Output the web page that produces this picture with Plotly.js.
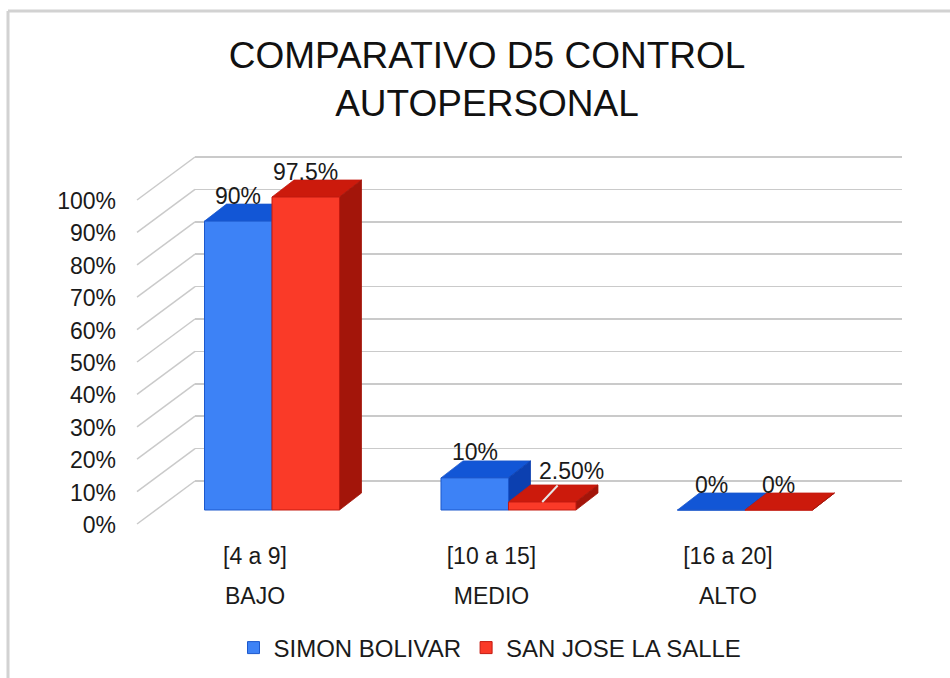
<!DOCTYPE html>
<html><head><meta charset="utf-8">
<script src="https://cdn.plot.ly/plotly-3.0.1.min.js"></script>
<style>html,body{margin:0;padding:0;background:#fff}#chart{width:950px;height:678px}</style>
</head><body><div id="chart"></div>
<script>
// ---- data ----
const categories = ['[4 a 9]', '[10 a 15]', '[16 a 20]'];
const levels = ['BAJO', 'MEDIO', 'ALTO'];
const seriesNames = ['SIMON BOLIVAR', 'SAN JOSE LA SALLE'];
const simonBolivar = [0.90, 0.10, 0.00];
const sanJoseLaSalle = [0.975, 0.025, 0.00];
const simonBolivarLabels = ['90%', '10%', '0%'];
const sanJoseLaSalleLabels = ['97.5%', '2.50%', '0%'];
const yTickValues = [0, 0.1, 0.2, 0.3, 0.4, 0.5, 0.6, 0.7, 0.8, 0.9, 1.0];

// ---- layout constants ----
const FONT = 'Liberation Sans, Arial, sans-serif';
const W = 950, H = 678;
const M = {l: 195, r: 48, t: 150, b: 148, autoexpand: false};
const plotW = W - M.l - M.r, plotH = H - M.t - M.b;
const xRange = [-0.3256, 2.664];
const yRange = [-0.0623, 1.1215];
const y2Range = [-0.1512, 1.0216];
const labelRange = [-0.2537, 2.7359];
const barWidth = 0.2854;
const depthX = 22, depthY = 17;
const pxPerY = plotH / (yRange[1] - yRange[0]);
const pxPerX = plotW / (xRange[1] - xRange[0]);
const depthYData = depthY / pxPerY;
const barPx = barWidth * pxPerX;
const px2paperX = p => (p - M.l) / plotW;
const px2paperY = p => (H - M.b - p) / plotH;

const series = [
  {name: seriesNames[0], values: simonBolivar, labels: simonBolivarLabels, offset: -barWidth,
   front: '#3d82f6', top: '#1256d6', side: '#0c40b0', edge: '#1c58cc'},
  {name: seriesNames[1], values: sanJoseLaSalle, labels: sanJoseLaSalleLabels, offset: 0,
   front: '#fa3a28', top: '#cc1a0c', side: '#a3150a', edge: '#c41a10'}
];
const xIdx = categories.map((c, i) => i);

const traces = series.map(s => ({
  type: 'bar', name: s.name, x: xIdx, y: s.values,
  offset: s.offset, width: barWidth,
  marker: {color: s.front, line: {color: s.edge, width: 1}},
  hoverinfo: 'skip', cliponaxis: false
}));
traces.push({type: 'scatter', mode: 'none', x: categories, y: [null, null, null], xaxis: 'x2', yaxis: 'y', showlegend: false, hoverinfo: 'skip'});
traces.push({type: 'scatter', mode: 'none', x: levels, y: [null, null, null], xaxis: 'x3', yaxis: 'y', showlegend: false, hoverinfo: 'skip'});
traces.push({type: 'scatter', mode: 'none', x: [0], y: [null], xaxis: 'x', yaxis: 'y2', showlegend: false, hoverinfo: 'skip'});

const shapes = [];
// outer frame
shapes.push({type: 'line', xref: 'paper', yref: 'paper', x0: px2paperX(8), x1: px2paperX(8), y0: px2paperY(690), y1: px2paperY(11), line: {color: '#d2d2d2', width: 3}});
shapes.push({type: 'line', xref: 'paper', yref: 'paper', x0: px2paperX(8), x1: px2paperX(960), y0: px2paperY(11), y1: px2paperY(11), line: {color: '#d2d2d2', width: 3}});
// side wall lines
yTickValues.forEach(v => {
  shapes.push({type: 'line', xref: 'paper', yref: 'y2', ysizemode: 'pixel', yanchor: v,
    x0: px2paperX(137), x1: 0, y0: -43, y1: 0, line: {color: '#cacaca', width: 1.5}});
});
// 3D faces
series.forEach(s => {
  s.values.forEach((v, i) => {
    const left = i + s.offset;
    shapes.push({type: 'path', layer: 'between', xref: 'x', yref: 'y', xsizemode: 'pixel', ysizemode: 'pixel',
      xanchor: left, yanchor: v,
      path: `M0,0 L${barPx},0 L${barPx + depthX},${depthY} L${depthX},${depthY} Z`,
      fillcolor: s.top, line: {color: s.edge, width: 0.8}});
    shapes.push({type: 'path', layer: 'between', xref: 'x', yref: 'y', xsizemode: 'pixel',
      xanchor: left + barWidth,
      path: `M0,${v} L${depthX},${v + depthYData} L${depthX},${depthYData} L0,0 Z`,
      fillcolor: s.side, line: {color: s.side, width: 0.8}});
  });
});

const annotations = [];
series.forEach(s => {
  s.values.forEach((v, i) => {
    const a = {xref: 'x', yref: 'y', x: i + s.offset + barWidth / 2, y: v, text: s.labels[i],
      font: {family: FONT, size: 23, color: '#1a1a1a'}, showarrow: false, yshift: 25.5};
    if (v > 0 && v < 0.05) {
      Object.assign(a, {showarrow: true, yshift: 0, ax: 29, ay: -31, arrowhead: 0, arrowwidth: 2, arrowcolor: '#e6e6e6', standoff: 0});
    }
    annotations.push(a);
  });
});

const layout = {
  width: W, height: H, margin: M, paper_bgcolor: '#fff', plot_bgcolor: 'rgba(0,0,0,0)',
  font: {family: FONT, color: '#1a1a1a'},
  title: {text: 'COMPARATIVO D5 CONTROL<br>AUTOPERSONAL', font: {family: FONT, size: 37, color: '#111'},
    xref: 'container', x: 487 / W, xanchor: 'center', yref: 'container', y: 1 - 68 / H, yanchor: 'top', automargin: false},
  showlegend: true,
  legend: {orientation: 'h', x: px2paperX(490), xanchor: 'center', y: px2paperY(648), yanchor: 'middle',
    font: {family: FONT, size: 24, color: '#1a1a1a'}, itemwidth: 30, bgcolor: 'rgba(0,0,0,0)'},
  xaxis: {range: xRange, showgrid: false, zeroline: false, showline: false, showticklabels: false, ticks: '', fixedrange: true},
  xaxis2: {overlaying: 'x', anchor: 'y', type: 'category', range: labelRange, showgrid: false, zeroline: false, showline: false,
    ticks: '', ticklabelstandoff: 10, tickfont: {family: FONT, size: 23, color: '#1a1a1a'}, automargin: false},
  xaxis3: {overlaying: 'x', anchor: 'y', type: 'category', range: labelRange, showgrid: false, zeroline: false, showline: false,
    ticks: '', ticklabelstandoff: 50, tickfont: {family: FONT, size: 23, color: '#1a1a1a'}, automargin: false},
  yaxis: {range: yRange, showgrid: false, zeroline: false, showline: false, showticklabels: false, ticks: '', fixedrange: true},
  yaxis2: {overlaying: 'y', side: 'left', range: y2Range, tickvals: yTickValues, tickformat: '.0%',
    showgrid: true, gridcolor: '#cacaca', gridwidth: 1.5, zeroline: false, showline: false, ticks: '',
    ticklabelshift: 44, ticklabelstandoff: 78, tickfont: {family: FONT, size: 23, color: '#1a1a1a'}, automargin: false},
  shapes: shapes, annotations: annotations, barmode: 'overlay'
};

Plotly.newPlot('chart', traces, layout, {staticPlot: true, displayModeBar: false});
</script>
</body></html>
